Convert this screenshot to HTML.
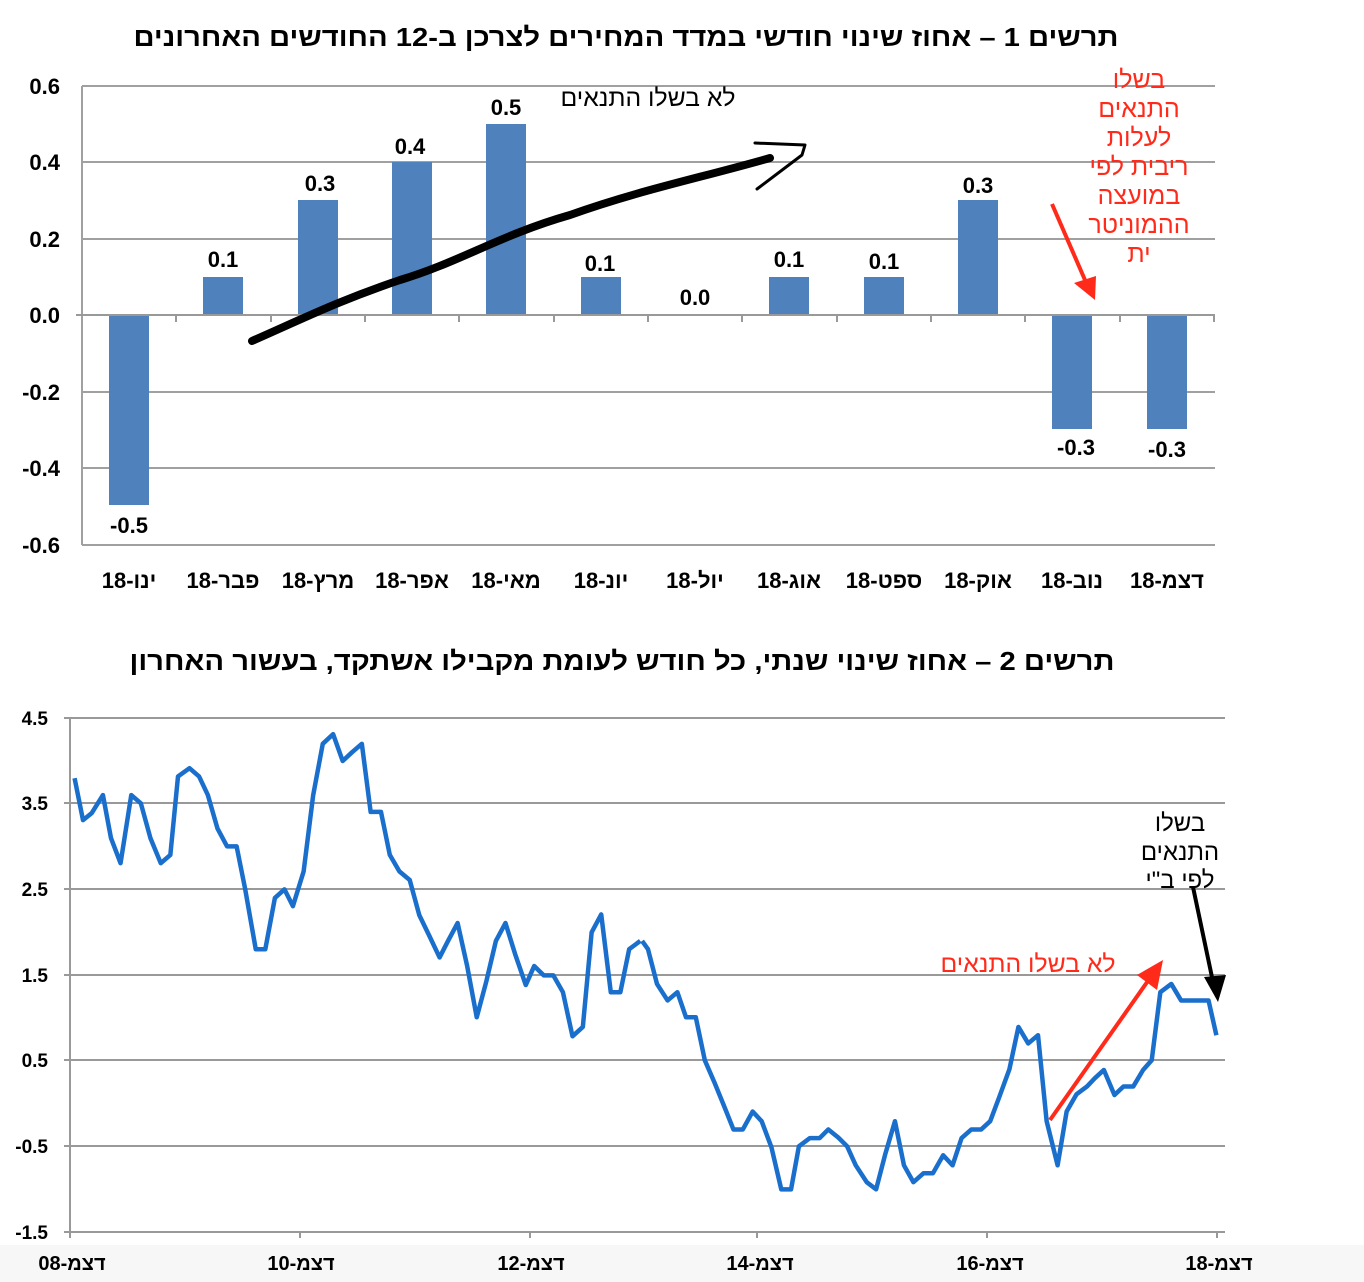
<!DOCTYPE html>
<html><head><meta charset="utf-8"><style>
body{margin:0;background:#fff;width:1364px;height:1282px;overflow:hidden;font-family:"Liberation Sans","Noto Sans CJK SC",sans-serif}
svg{position:absolute;left:0;top:0}
text{font-family:"Liberation Sans","Noto Sans CJK SC",sans-serif}
</style></head><body>
<svg width="1364" height="1282" viewBox="0 0 1364 1282">
<rect x="0" y="1245" width="1364" height="37" fill="#f7f7f7"/>
<!-- Chart 1 -->
<text x="626" y="46" text-anchor="middle" direction="rtl" font-size="26" font-weight="bold" textLength="985" lengthAdjust="spacingAndGlyphs">תרשים 1 – אחוז שינוי חודשי במדד המחירים לצרכן ב-12 החודשים האחרונים</text>
<g stroke="#a0a0a0" stroke-width="2">
<line x1="82" y1="86" x2="1215" y2="86"/><line x1="82" y1="162" x2="1215" y2="162"/><line x1="82" y1="239" x2="1215" y2="239"/>
<line x1="82" y1="392" x2="1215" y2="392"/><line x1="82" y1="468" x2="1215" y2="468"/><line x1="82" y1="545" x2="1215" y2="545"/>
<line x1="82" y1="86" x2="82" y2="545"/>
</g>
<g fill="#4f81bd">
<rect x="109" y="315" width="40" height="190"/>
<rect x="203" y="277" width="40" height="38"/>
<rect x="298" y="200" width="40" height="115"/>
<rect x="392" y="162" width="40" height="153"/>
<rect x="486" y="124" width="40" height="191"/>
<rect x="581" y="277" width="40" height="38"/>
<rect x="769" y="277" width="40" height="38"/>
<rect x="864" y="277" width="40" height="38"/>
<rect x="958" y="200" width="40" height="115"/>
<rect x="1052" y="315" width="40" height="114"/>
<rect x="1147" y="315" width="40" height="114"/>
</g>
<g stroke="#999" stroke-width="2">
<line x1="76" y1="315" x2="1215" y2="315"/>
<line x1="176" y1="315" x2="176" y2="322"/><line x1="271" y1="315" x2="271" y2="322"/><line x1="365" y1="315" x2="365" y2="322"/><line x1="459" y1="315" x2="459" y2="322"/><line x1="554" y1="315" x2="554" y2="322"/><line x1="648" y1="315" x2="648" y2="322"/><line x1="742" y1="315" x2="742" y2="322"/><line x1="837" y1="315" x2="837" y2="322"/><line x1="931" y1="315" x2="931" y2="322"/><line x1="1025" y1="315" x2="1025" y2="322"/><line x1="1120" y1="315" x2="1120" y2="322"/><line x1="1214" y1="315" x2="1214" y2="322"/>
</g>
<g font-size="22" font-weight="bold" text-anchor="end">
<text x="60" y="94">0.6</text><text x="60" y="170">0.4</text><text x="60" y="247">0.2</text><text x="60" y="323">0.0</text><text x="60" y="400">-0.2</text><text x="60" y="476">-0.4</text><text x="60" y="553">-0.6</text>
</g>
<g font-size="22" font-weight="bold" text-anchor="middle">
<text x="129" y="533">-0.5</text><text x="223" y="267">0.1</text><text x="320" y="191">0.3</text><text x="410" y="154">0.4</text><text x="506" y="115">0.5</text><text x="600" y="271">0.1</text><text x="695" y="305">0.0</text><text x="789" y="267">0.1</text><text x="884" y="269">0.1</text><text x="978" y="193">0.3</text><text x="1076" y="455">-0.3</text><text x="1167" y="457">-0.3</text>
</g>
<g font-size="22" font-weight="bold" text-anchor="middle" direction="ltr">
<text x="129" y="588">18-ינו</text><text x="223" y="588">18-פבר</text><text x="318" y="588">18-מרץ</text><text x="412" y="588">18-אפר</text><text x="506" y="588">18-מאי</text><text x="601" y="588">18-יונ</text><text x="695" y="588">18-יול</text><text x="789" y="588">18-אוג</text><text x="884" y="588">18-ספט</text><text x="978" y="588">18-אוק</text><text x="1072" y="588">18-נוב</text><text x="1167" y="588">18-דצמ</text>
</g>
<text x="648" y="106" text-anchor="middle" direction="rtl" font-size="24" textLength="175" lengthAdjust="spacingAndGlyphs">לא בשלו התנאים</text>
<path d="M252,341 C300,320 340,300 400,280 C460,262 500,235 570,215 C640,190 700,178 770,158" fill="none" stroke="#000" stroke-width="8" stroke-linecap="round"/>
<path d="M755,143 L805,145 L802,155 L757,189" fill="none" stroke="#000" stroke-width="3" stroke-linecap="round" stroke-linejoin="round"/>
<g fill="#ff2a1a" font-size="25" text-anchor="middle" direction="rtl">
<text x="1139" y="88">בשלו</text><text x="1139" y="117">התנאים</text><text x="1139" y="146">לעלות</text><text x="1139" y="175">ריבית לפי</text><text x="1139" y="204">במועצה</text><text x="1139" y="233">ההמוניטר</text><text x="1139" y="262">ית</text>
</g>
<line x1="1052" y1="204" x2="1085" y2="280" stroke="#ff2a1a" stroke-width="4"/>
<polygon points="1074,283 1096,276 1095,300" fill="#ff2a1a"/>
<!-- Chart 2 -->
<text x="622" y="670" text-anchor="middle" direction="rtl" font-size="26" font-weight="bold" textLength="985" lengthAdjust="spacingAndGlyphs">תרשים 2 – אחוז שינוי שנתי, כל חודש לעומת מקבילו אשתקד, בעשור האחרון</text>
<g stroke="#999" stroke-width="2">
<line x1="64" y1="718" x2="1225" y2="718"/><line x1="64" y1="803" x2="1225" y2="803"/><line x1="64" y1="889" x2="1225" y2="889"/><line x1="64" y1="975" x2="1225" y2="975"/><line x1="64" y1="1060" x2="1225" y2="1060"/><line x1="64" y1="1146" x2="1225" y2="1146"/><line x1="64" y1="1232" x2="1225" y2="1232"/>
<line x1="70" y1="718" x2="70" y2="1238"/>
<line x1="300" y1="1232" x2="300" y2="1238"/><line x1="530" y1="1232" x2="530" y2="1238"/><line x1="757" y1="1232" x2="757" y2="1238"/><line x1="987" y1="1232" x2="987" y2="1238"/><line x1="1217" y1="1232" x2="1217" y2="1238"/>
</g>
<g font-size="19" font-weight="bold" text-anchor="end">
<text x="48" y="725">4.5</text><text x="48" y="810">3.5</text><text x="48" y="896">2.5</text><text x="48" y="982">1.5</text><text x="48" y="1067">0.5</text><text x="48" y="1153">-0.5</text><text x="48" y="1239">-1.5</text>
</g>
<g font-size="20" font-weight="bold" text-anchor="middle" direction="ltr">
<text x="72" y="1270">08-דצמ</text><text x="301" y="1270">10-דצמ</text><text x="531" y="1270">12-דצמ</text><text x="760" y="1270">14-דצמ</text><text x="990" y="1270">16-דצמ</text><text x="1219" y="1270">18-דצמ</text>
</g>
<g fill="none" stroke="#1a6fcc" stroke-width="4.5" stroke-linejoin="round">
<polyline vector-effect="non-scaling-stroke" transform="translate(63.1,700.1) scale(0.383,0.3584)" points="30,218 52,335 75,315 104,265 125,385 150,455 178,265 203,288 228,385 255,455 280,432 300,213 330,190 355,213 378,265 403,358 428,408 453,408 475,525 503,695 528,695 553,552 578,528 600,575 628,478 653,265 678,122 705,95 730,170 755,145 780,122 803,312 830,312 853,432 878,478 905,502 930,600 955,655 983,718 1005,672 1030,622 1055,742 1080,885 1105,785 1130,672 1155,622 1180,708 1208,795 1230,742 1255,768 1280,768 1305,815 1330,938 1357,912 1380,648 1405,598 1430,815 1455,815 1478,695 1507,672"/>
<polyline vector-effect="non-scaling-stroke" transform="translate(642.1,700.1) scale(0.392,0.3584)" points="0,672 15,695 38,792 65,838 90,815 112,885 137,885 160,1005 185,1068 210,1135 233,1198 257,1198 282,1148 305,1175 330,1248 355,1365 380,1365 400,1245 428,1222 453,1222 475,1198 500,1220 523,1245 545,1298 573,1345 597,1365 620,1268 645,1175 668,1298 692,1345 718,1320 742,1320 768,1270 792,1298 815,1222 840,1198 865,1198 888,1175 912,1105 937,1030 960,912 985,958 1010,935 1032,1175 1060,1298 1083,1148 1108,1100 1135,1078 1155,1055 1178,1032 1205,1102 1228,1078 1253,1078 1278,1032 1300,1005 1322,815 1350,792 1375,838 1400,838 1425,838 1445,838 1465,935"/>
</g>
<text x="1028" y="972" text-anchor="middle" direction="rtl" font-size="24" fill="#ff2a1a" textLength="175" lengthAdjust="spacingAndGlyphs">לא בשלו התנאים</text>
<line x1="1050" y1="1120" x2="1150" y2="978" stroke="#ff2a1a" stroke-width="4"/>
<polygon points="1137,975 1163,960 1157,990" fill="#ff2a1a"/>
<g font-size="24" text-anchor="middle" direction="rtl">
<text x="1180" y="831">בשלו</text><text x="1180" y="860">התנאים</text><text x="1180" y="888">לפי ב"י</text>
</g>
<line x1="1193" y1="887" x2="1213" y2="982" stroke="#000" stroke-width="4"/>
<polygon points="1204,977 1226,975 1218,1002" fill="#000"/>
</svg>
</body></html>
